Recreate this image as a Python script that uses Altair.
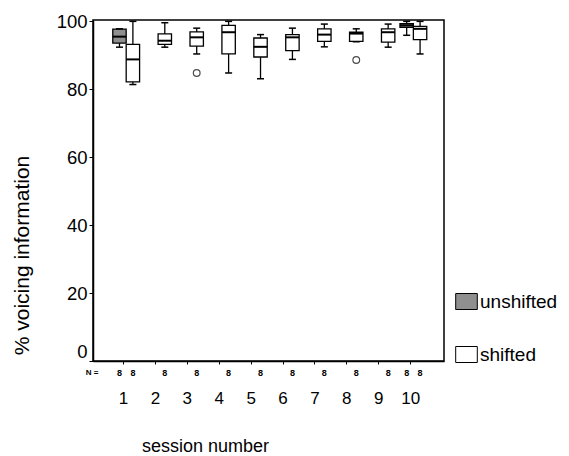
import altair as alt
import pandas as pd

# ---- data ----
sessions = [1, 2, 3, 4, 5, 6, 7, 8, 9, 10]
sh_min = [81.4, 92.4, 90.4, 84.8, 83.1, 88.8, 92.5, 94.0, 92.4, 90.4]
sh_q1 = [82.2, 93.2, 92.7, 90.4, 89.5, 91.4, 94.1, 94.1, 93.9, 94.6]
sh_med = [88.8, 94.3, 95.3, 96.8, 92.5, 95.3, 96.1, 96.4, 96.8, 97.8]
sh_q3 = [93.2, 96.3, 96.9, 98.8, 95.1, 96.1, 97.8, 96.8, 97.8, 98.5]
sh_max = [100.0, 99.6, 98.0, 100.0, 96.1, 98.0, 99.2, 97.8, 99.2, 100.0]
sh_n = [8, 8, 8, 8, 8, 8, 8, 8, 8, 8]

un_sessions = [1, 10]
un_min = [92.4, 95.9]
un_q1 = [93.6, 98.2]
un_med = [95.5, 98.8]
un_q3 = [97.7, 99.3]
un_max = [97.8, 100.0]
un_n = [8, 8]

out_sessions = [3, 8]
out_groups = ["shifted", "shifted"]
out_values = [84.8, 88.6]

groups = ["unshifted", "shifted"]
x_ticks = [1, 2, 3, 4, 5, 6, 7, 8, 9, 10]
y_ticks = [0, 20, 40, 60, 80, 100]

rows = []
for i, s in enumerate(un_sessions):
    rows.append(dict(session=s, group="unshifted", lo=un_min[i], q1=un_q1[i],
                     med=un_med[i], q3=un_q3[i], hi=un_max[i], n=str(un_n[i])))
for i, s in enumerate(sessions):
    rows.append(dict(session=s, group="shifted", lo=sh_min[i], q1=sh_q1[i],
                     med=sh_med[i], q3=sh_q3[i], hi=sh_max[i], n=str(sh_n[i])))
df = pd.DataFrame(rows)
dout = pd.DataFrame(dict(session=out_sessions, group=out_groups, value=out_values))

FONT = "Liberation Sans"
xscale = alt.Scale(domain=[0.06, 11.06], nice=False, zero=False)
yscale = alt.Scale(domain=[0, 100.4], nice=False)

XAXIS = alt.Axis(values=x_ticks, grid=False, tickSize=3, labelPadding=26,
                 labelFontSize=17, labelFont=FONT, labelColor="black",
                 tickColor="black", domainColor="black", domainWidth=1.5,
                 titleFont=FONT, titleFontSize=18, titleFontWeight="normal",
                 titleColor="black", titleX=112, titleY=85,
                 titleBaseline="middle")
YAXIS = alt.Axis(values=y_ticks, grid=False, tickSize=4, labelPadding=2,
                 labelFontSize=18.5, labelFont=FONT, labelColor="black",
                 labelFlush=1,
                 tickColor="black", domainColor="black", domainWidth=1.5,
                 titleFont=FONT, titleFontSize=21, titleFontWeight="normal",
                 titleColor="black", titleX=-71, titleY=235,
                 titleBaseline="middle", titleAlign="center")
XT = "session number"
YT = "% voicing information"


def X(f):
    return alt.X(f, scale=xscale, axis=XAXIS, title=XT)


def Y(f):
    return alt.Y(f, scale=yscale, axis=YAXIS, title=YT)


POS = "datum.session + (datum.group === 'shifted' ? 0.31 : -0.11)"

base = alt.Chart(df).transform_calculate(pos=POS).transform_calculate(
    bl="datum.pos - 0.21", br="datum.pos + 0.21",
    cl="datum.pos - 0.11", cr="datum.pos + 0.11"
)

whisk = base.mark_rule(color="black", strokeWidth=1.3).encode(
    x=X("pos:Q"), y=Y("lo:Q"), y2="hi:Q",
)

box = base.mark_bar(stroke="black", strokeWidth=1.3).encode(
    x=X("bl:Q"), x2="br:Q",
    y=Y("q1:Q"), y2="q3:Q",
    fill=alt.Fill("group:N",
                  scale=alt.Scale(domain=groups, range=["#8f8f8f", "#ffffff"]),
                  legend=alt.Legend(orient="none", legendX=364, legendY=272,
                                    title=None,
                                    symbolType="M-1.35,-1L1.35,-1L1.35,1L-1.35,1Z",
                                    symbolSize=256,
                                    symbolStrokeColor="black", symbolStrokeWidth=1,
                                    symbolOpacity=1,
                                    labelFont=FONT, labelFontSize=19,
                                    labelColor="black", rowPadding=32,
                                    labelOffset=4, labelLimit=200)),
)

median = base.mark_rule(color="black", strokeWidth=2).encode(
    x=X("bl:Q"), x2="br:Q", y=Y("med:Q"),
)
cap_lo = base.mark_rule(color="black", strokeWidth=1.5).encode(
    x=X("cl:Q"), x2="cr:Q", y=Y("lo:Q"),
)
cap_hi = base.mark_rule(color="black", strokeWidth=1.5).encode(
    x=X("cl:Q"), x2="cr:Q", y=Y("hi:Q"),
)

outl = alt.Chart(dout).transform_calculate(pos=POS).mark_point(
    shape="circle", filled=False, color="black", size=45, strokeWidth=1.2
).encode(
    x=X("pos:Q"), y=Y("value:Q"),
)

ntext = base.mark_text(font=FONT, fontSize=9, fontWeight="bold", color="black",
                       baseline="middle").encode(
    x=X("pos:Q"),
    y=alt.value(353),
    text="n:N",
)
nlabel = alt.Chart(pd.DataFrame({"t": ["N ="]})).mark_text(
    font=FONT, fontSize=8, fontWeight="bold", color="black", baseline="middle"
).encode(x=alt.value(-1), y=alt.value(353), text="t:N")

chart = alt.layer(whisk, box, median, cap_lo, cap_hi, outl, ntext, nlabel).properties(
    width=351, height=341,
    background="white",
    autosize=alt.AutoSizeParams(type="none"),
    padding={"left": 85, "top": 12, "right": 117, "bottom": 95},
).configure_view(stroke="black", strokeWidth=1.5)

chart.save("out.html", embed_options={"renderer": "svg", "actions": False})
